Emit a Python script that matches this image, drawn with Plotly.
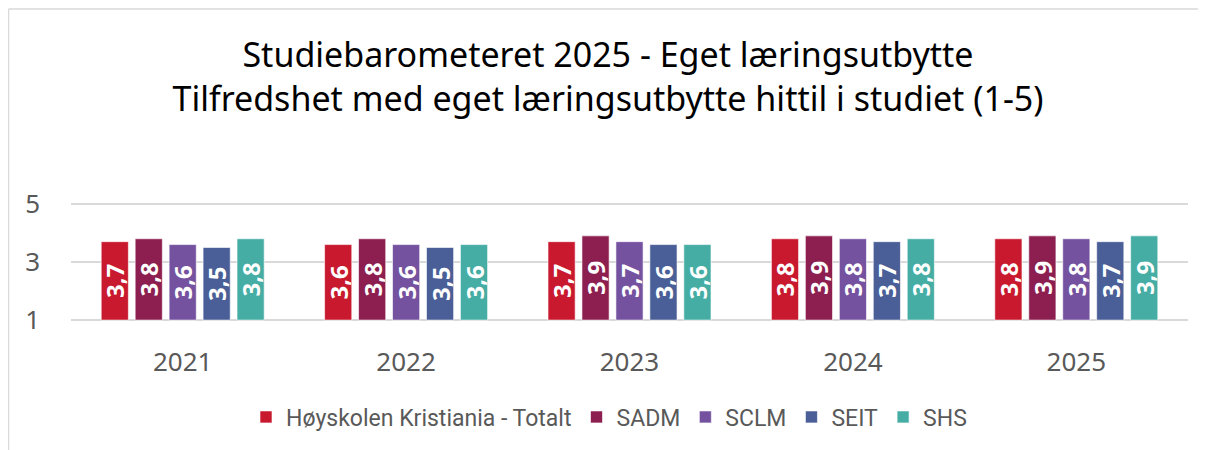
import plotly.graph_objects as go

years = ["2021", "2022", "2023", "2024", "2025"]
series_names = ["Høyskolen Kristiania - Totalt", "SADM", "SCLM", "SEIT", "SHS"]
totalt = [3.7, 3.6, 3.7, 3.8, 3.8]
sadm = [3.8, 3.8, 3.9, 3.9, 3.9]
sclm = [3.6, 3.6, 3.7, 3.8, 3.8]
seit = [3.5, 3.5, 3.6, 3.7, 3.7]
shs = [3.8, 3.6, 3.6, 3.8, 3.9]
colors = ["#C8192F", "#8D1F50", "#7552A0", "#4A5F97", "#46ADA5"]
axis_min = 1
y_ticks = [1, 3, 5]

# figure-pixel layout (page has an 8px body margin)
W, H = 1206, 450
ML, MR, MT, MB = 63, 26, 193, 135
PW, PH = W - ML - MR, H - MT - MB

fig = go.Figure()
for name, vals, col in zip(series_names, [totalt, sadm, sclm, seit, shs], colors):
    fig.add_trace(go.Bar(
        name=name,
        x=years,
        y=[v - axis_min for v in vals],
        base=axis_min,
        marker=dict(color=col, line=dict(color="rgba(255,255,255,0.6)", width=1)),
        text=[f"{v:.1f}".replace(".", ",") for v in vals],
        textposition="inside",
        insidetextanchor="middle",
        textangle=-90,
        constraintext="none",
        cliponaxis=False,
        textfont=dict(family="Open Sans, Noto Sans, sans-serif", size=24, color="white", weight="bold"),
        hovertext=[f"{v:.1f}".replace(".", ",") for v in vals],
    ))

fig.update_layout(
    width=W, height=H,
    barmode="group", bargap=0.24, bargroupgap=0.2,
    paper_bgcolor="white", plot_bgcolor="white",
    margin=dict(l=ML, r=MR, t=MT, b=MB, autoexpand=False),
    title=dict(
        text="Studiebarometeret 2025 - Eget læringsutbytte<br>Tilfredshet med eget læringsutbytte hittil i studiet (1-5)",
        x=600 / W, xref="container", xanchor="center",
        y=1 - 59 / H, yref="container", yanchor="top",
        font=dict(family="Noto Sans, sans-serif", size=34, color="#000000"),
    ),
    font=dict(family="Noto Sans, sans-serif", color="#595959"),
    showlegend=True,
    legend=dict(
        orientation="h", x=238 / W, xanchor="left", xref="container",
        y=1 - 409 / H, yanchor="middle", yref="container",
        font=dict(family="Roboto, sans-serif", size=23, color="#595959"),
        itemwidth=30, traceorder="normal",
    ),
    shapes=[
        dict(type="line", xref="paper", yref="paper", x0=(0.5 - ML) / PW, x1=(W - ML) / PW,
             y0=(MT + PH - 1) / PH, y1=(MT + PH - 1) / PH, line=dict(color="#D9D9D9", width=1.5)),
        dict(type="line", xref="paper", yref="paper", x0=(0.5 - ML) / PW, x1=(0.5 - ML) / PW,
             y0=(MT + PH - 1) / PH, y1=(MT + PH - H) / PH, line=dict(color="#D9D9D9", width=1.5)),
    ],
)
fig.update_xaxes(
    showgrid=False, showline=False, zeroline=False,
    tickfont=dict(size=26, color="#595959"),
    ticklabelstandoff=21,
)
fig.update_yaxes(
    range=[0.9, 5.1], tickvals=y_ticks, showgrid=True, gridcolor="#D9D9D9", gridwidth=1.5,
    zeroline=False, showline=False,
    tickfont=dict(size=26, color="#595959"),
    ticklabelstandoff=30,
)
fig.write_html("out.html")
